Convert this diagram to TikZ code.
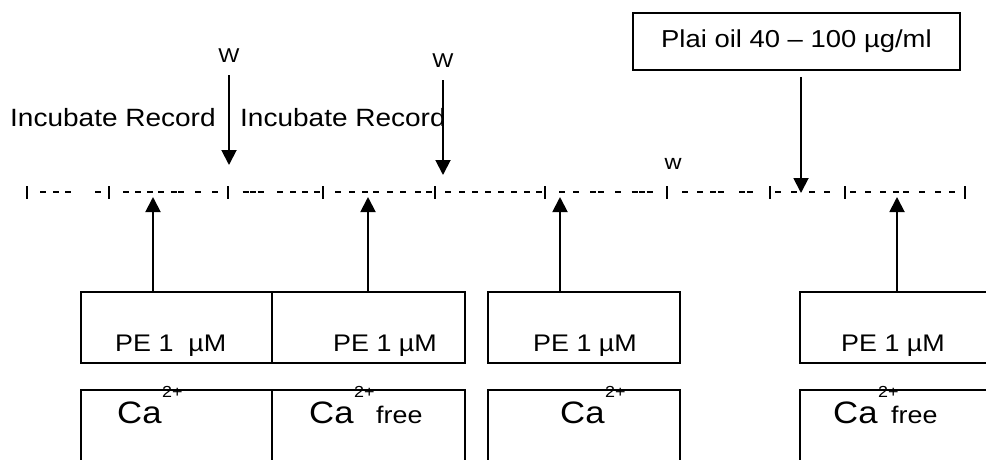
\documentclass[tikz,border=0pt]{standalone}
\usepackage{fontspec}
\setmainfont{Liberation Sans}[FakeStretch=1.12]
\usetikzlibrary{arrows.meta}

\tikzset{
  ln/.style={line width=1.9pt},
  arr/.style={line width=1.9pt, -{Triangle[width=15pt,length=15pt]}},
  box/.style={draw, line width=1.9pt, inner sep=0pt, outer sep=0pt, anchor=north west},
  lbl/.style={inner sep=0pt, anchor=base west},
  wlbl/.style={inner sep=0pt, anchor=base, font=\fontsize{20}{22}\selectfont},
  catext/.style={lbl, font=\fontsize{31}{36}\selectfont},
}
\newcommand{\supTwo}{\kern0.5pt\raisebox{26pt}{\fontsize{16}{18}\selectfont 2+}}

\begin{document}
\begin{tikzpicture}[x=1pt, y=-1pt, font=\fontsize{24}{28}\selectfont]
\useasboundingbox (0,0) rectangle (986,459);
\clip (0,0) rectangle (986,459);

% time line: segment marks and dashes (x = centre of a run, n = hyphens in the run)
\foreach \x in {27,109,228,323,435,545,667,770,845,965}
  \draw[ln] (\x,186) -- (\x,199);
\foreach \x/\n in {43/1,56/1,68/1,98/1,
                   126/1,138/1,150/1,161/1,177.5/2,198/1,215/1,
                   253/3,280/1,293/1,305/1,317/1,
                   338/1,352/1,365/1,376/1,390/1,403/1,418/1,429/1,
                   448/1,462/1,475/1,488/1,501/1,514/1,527/1,539/1,
                   562/1,576/1,597/2,618/1,642/3,
                   685/1,700/1,717/2,746/2,
                   778/1,794/1,812/1,827/1,
                   853/1,868/1,883/1,896/1,906/1,922/1,938/1,952/1}
  \foreach \k in {1,...,\n}
    \draw[ln] ({\x-7.5*(\n-1)/2+7.5*(\k-1)-3},192) -- ({\x-7.5*(\n-1)/2+7.5*(\k-1)+3},192);

% labels above the line
\node[lbl, font=\fontsize{25}{30}\selectfont] (inc1) at (10,126) {Incubate Record};
\node[lbl, font=\fontsize{25}{30}\selectfont] (inc2) at (240,126) {Incubate Record};
\node[wlbl] (w1) at (229,62) {W};
\node[wlbl] (w2) at (443,67) {W};
\node[wlbl, font=\fontsize{21}{24}\selectfont] (w3) at (673,169) {w};

\node[draw, ln, inner sep=0pt, minimum width=327pt, minimum height=57pt, anchor=north west,
      font=\fontsize{24.5}{28}\selectfont]
  (plai) at (632,12) {Plai oil 40 – 100 µg/ml};

% arrow end points on the time line
\coordinate (d1) at (229,165);
\coordinate (d2) at (443,175);
\coordinate (d3) at (801,193);
\coordinate (u1) at (153,197);
\coordinate (u2) at (368,197);
\coordinate (u3) at (560,197);
\coordinate (u4) at (897,197);

% stimulus boxes
\node[box, minimum width=191pt, minimum height=71pt] (pe1) at (81,292) {};
\node[box, minimum width=193pt, minimum height=71pt] (pe2) at (272,292) {};
\node[box, minimum width=192pt, minimum height=71pt] (pe3) at (488,292) {};
\node[box, minimum width=220pt, minimum height=71pt] (pe4) at (800,292) {};
\node[box, minimum width=191pt, minimum height=100pt] (ca1) at (81,390) {};
\node[box, minimum width=193pt, minimum height=100pt] (ca2) at (272,390) {};
\node[box, minimum width=192pt, minimum height=100pt] (ca3) at (488,390) {};
\node[box, minimum width=220pt, minimum height=100pt] (ca4) at (800,390) {};

\node[lbl] (pe1t) at (115,351) {PE 1~ µM};
\node[lbl] (pe2t) at (333,351) {PE 1 µM};
\node[lbl] (pe3t) at (533,351) {PE 1 µM};
\node[lbl] (pe4t) at (841,351) {PE 1 µM};

\node[catext] (ca1t) at (117,423) {Ca\supTwo};
\node[catext] (ca2t) at (309,423) {Ca\supTwo};
\node[lbl] (free2) at (376,423) {free};
\node[catext] (ca3t) at (560,423) {Ca\supTwo};
\node[catext] (ca4t) at (833,423) {Ca\supTwo};
\node[lbl] (free4) at (891,423) {free};

% arrows
\draw[arr, shorten <=13pt] (w1.south) -- (d1);
\draw[arr, shorten <=13pt] (w2.south) -- (d2);
\draw[arr, shorten <=6pt] (plai.south -| d3) -- (d3);
\draw[arr] (pe1.north -| u1) -- (u1);
\draw[arr] (pe2.north -| u2) -- (u2);
\draw[arr] (pe3.north -| u3) -- (u3);
\draw[arr] (pe4.north -| u4) -- (u4);
\end{tikzpicture}
\end{document}
